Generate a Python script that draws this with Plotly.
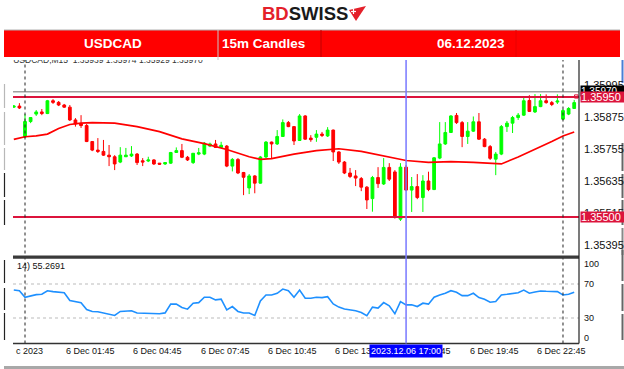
import plotly.graph_objects as go
import pandas as pd

W, H = 624, 369
def px(x): return x / W
def py(y): return 1 - y / H

# ---------------- data ----------------
times = pd.date_range("2023-12-05 23:30", periods=101, freq="15min")

opens = [1.35912, 1.35916, 1.35800, 1.35858, 1.35886, 1.35894, 1.35888, 1.35936, 1.35930, 1.35920,
         1.35912, 1.35864, 1.35849, 1.35843, 1.35783, 1.35751, 1.35746, 1.35732, 1.35726, 1.35706,
         1.35726, 1.35729, 1.35736, 1.35711, 1.35710, 1.35714, 1.35702, 1.35699, 1.35702, 1.35742,
         1.35749, 1.35724, 1.35704, 1.35736, 1.35736, 1.35766, 1.35774, 1.35761, 1.35766, 1.35691,
         1.35716, 1.35667, 1.35609, 1.35654, 1.35627, 1.35725, 1.35781, 1.35774, 1.35802, 1.35854,
         1.35839, 1.35787, 1.35879, 1.35796, 1.35799, 1.35811, 1.35804, 1.35826, 1.35744, 1.35706,
         1.35665, 1.35654, 1.35644, 1.35612, 1.35569, 1.35648, 1.35624, 1.35686, 1.35669, 1.35492,
         1.35687, 1.35601, 1.35614, 1.35573, 1.35635, 1.35603, 1.35721, 1.35774, 1.35817, 1.35881,
         1.35854, 1.35802, 1.35822, 1.35857, 1.35792, 1.35764, 1.35717, 1.35736, 1.35839, 1.35852,
         1.35873, 1.35882, 1.35937, 1.35894, 1.35914, 1.35936, 1.35929, 1.35931, 1.35867, 1.35886,
         1.35907]
highs = [1.35920, 1.35927, 1.35886, 1.35875, 1.35901, 1.35905, 1.35939, 1.35942, 1.35935, 1.35924,
         1.35920, 1.35871, 1.35882, 1.35849, 1.35785, 1.35796, 1.35789, 1.35770, 1.35732, 1.35762,
         1.35759, 1.35766, 1.35740, 1.35721, 1.35726, 1.35717, 1.35702, 1.35706, 1.35744, 1.35761,
         1.35774, 1.35729, 1.35740, 1.35759, 1.35781, 1.35779, 1.35789, 1.35782, 1.35770, 1.35721,
         1.35721, 1.35669, 1.35661, 1.35657, 1.35729, 1.35785, 1.35783, 1.35826, 1.35866, 1.35860,
         1.35841, 1.35886, 1.35882, 1.35807, 1.35826, 1.35819, 1.35837, 1.35828, 1.35747, 1.35710,
         1.35684, 1.35676, 1.35650, 1.35616, 1.35654, 1.35687, 1.35721, 1.35702, 1.35676, 1.35702,
         1.35695, 1.35650, 1.35661, 1.35657, 1.35670, 1.35725, 1.35856, 1.35856, 1.35882, 1.35890,
         1.35860, 1.35856, 1.35877, 1.35890, 1.35796, 1.35770, 1.35744, 1.35845, 1.35860, 1.35879,
         1.35890, 1.35951, 1.35957, 1.35961, 1.35961, 1.35960, 1.35935, 1.35960, 1.35905, 1.35912,
         1.35939]
lows = [1.35909, 1.35905, 1.35798, 1.35852, 1.35879, 1.35882, 1.35886, 1.35924, 1.35916, 1.35909,
        1.35860, 1.35839, 1.35834, 1.35781, 1.35747, 1.35740, 1.35729, 1.35691, 1.35676, 1.35702,
        1.35725, 1.35725, 1.35695, 1.35691, 1.35706, 1.35695, 1.35695, 1.35695, 1.35699, 1.35740,
        1.35721, 1.35710, 1.35699, 1.35732, 1.35732, 1.35762, 1.35759, 1.35759, 1.35687, 1.35671,
        1.35661, 1.35582, 1.35586, 1.35589, 1.35625, 1.35721, 1.35720, 1.35770, 1.35800, 1.35837,
        1.35770, 1.35785, 1.35789, 1.35782, 1.35782, 1.35800, 1.35800, 1.35710, 1.35699, 1.35661,
        1.35646, 1.35616, 1.35597, 1.35530, 1.35520, 1.35609, 1.35620, 1.35635, 1.35494, 1.35485,
        1.35597, 1.35519, 1.35567, 1.35519, 1.35597, 1.35601, 1.35717, 1.35770, 1.35815, 1.35849,
        1.35762, 1.35774, 1.35819, 1.35789, 1.35762, 1.35714, 1.35657, 1.35732, 1.35819, 1.35815,
        1.35864, 1.35879, 1.35894, 1.35890, 1.35912, 1.35925, 1.35916, 1.35924, 1.35864, 1.35882,
        1.35905]
closes = [1.35916, 1.35909, 1.35858, 1.35873, 1.35894, 1.35888, 1.35936, 1.35930, 1.35920, 1.35912,
          1.35864, 1.35849, 1.35843, 1.35783, 1.35751, 1.35746, 1.35732, 1.35726, 1.35699, 1.35732,
          1.35732, 1.35736, 1.35704, 1.35706, 1.35714, 1.35699, 1.35698, 1.35704, 1.35742, 1.35749,
          1.35724, 1.35714, 1.35739, 1.35741, 1.35777, 1.35774, 1.35761, 1.35769, 1.35691, 1.35716,
          1.35665, 1.35649, 1.35654, 1.35627, 1.35725, 1.35781, 1.35774, 1.35802, 1.35854, 1.35839,
          1.35785, 1.35879, 1.35792, 1.35790, 1.35811, 1.35806, 1.35826, 1.35744, 1.35706, 1.35665,
          1.35652, 1.35646, 1.35612, 1.35564, 1.35648, 1.35625, 1.35686, 1.35642, 1.35500, 1.35687,
          1.35601, 1.35614, 1.35573, 1.35635, 1.35603, 1.35722, 1.35774, 1.35817, 1.35879, 1.35854,
          1.35802, 1.35822, 1.35857, 1.35792, 1.35764, 1.35720, 1.35736, 1.35839, 1.35852, 1.35873,
          1.35882, 1.35936, 1.35896, 1.35914, 1.35936, 1.35929, 1.35922, 1.35935, 1.35899, 1.35907,
          1.35929]

ma_index = [0, 2, 4, 6, 8, 10, 12, 14, 18, 22, 26, 30, 34, 38, 42, 44, 46, 50, 54, 58, 62, 66,
            70, 74, 78, 82, 86, 87, 90, 92, 94, 96, 98, 100]
ma_values = [1.35791, 1.35801, 1.35804, 1.35811, 1.35832, 1.35847, 1.35852, 1.35854, 1.35852,
             1.35839, 1.35820, 1.35793, 1.35775, 1.35753, 1.35726, 1.35716, 1.35719, 1.35736,
             1.35749, 1.35756, 1.35746, 1.35730, 1.35712, 1.35705, 1.35708, 1.35705, 1.35700,
             1.35699, 1.35725, 1.35744, 1.35766, 1.35783, 1.35804, 1.35819]

rsi = [62.9, 62.1, 54.4, 56.0, 57.5, 57.9, 62.1, 61.0, 60.0, 59.8,
       50.5, 49.5, 48.0, 40.0, 37.7, 37.3, 36.0, 34.5, 33.0, 37.7,
       38.3, 38.5, 35.8, 35.8, 35.8, 35.3, 35.0, 36.0, 46.3, 46.3,
       42.3, 40.4, 47.4, 48.1, 54.4, 54.4, 51.3, 52.1, 39.6, 43.5,
       37.7, 35.8, 35.8, 33.0, 50.1, 57.1, 57.1, 59.1, 64.1, 62.1,
       54.4, 62.9, 53.3, 53.3, 54.4, 54.0, 55.1, 46.6, 42.8, 40.5,
       39.6, 38.5, 36.5, 32.6, 42.8, 41.6, 48.1, 44.3, 35.0, 49.3,
       45.5, 45.5, 43.5, 47.4, 46.3, 54.4, 57.1, 59.1, 62.1, 60.2,
       56.3, 56.3, 59.1, 54.0, 52.1, 48.6, 49.3, 57.1, 57.9, 59.1,
       59.8, 62.9, 59.1, 60.6, 61.8, 61.4, 61.0, 61.0, 57.1, 57.9,
       60.2]

price_ticks = [1.35995, 1.35875, 1.35755, 1.35635, 1.35515, 1.35395]
level_high = 1.35950
level_low = 1.35500
bid_price = 1.35970
rsi_ticks = [70, 30]

time_label_times = ["2023-12-06 01:45", "2023-12-06 04:45", "2023-12-06 07:45", "2023-12-06 10:45",
                    "2023-12-06 13:45", "2023-12-06 16:45", "2023-12-06 19:45", "2023-12-06 22:45"]
time_label_texts = ["6 Dec 01:45", "6 Dec 04:45", "6 Dec 07:45", "6 Dec 10:45",
                    "6 Dec 13:45", "6 Dec 16:45", "6 Dec 19:45", "6 Dec 22:45"]
day_separators = ["2023-12-06 00:00", "2023-12-07 00:00"]
cursor_time = "2023-12-06 17:00"

FONT = "Liberation Sans, Arial, sans-serif"

# ---------------- traces ----------------
fig = go.Figure()
fig.add_trace(go.Candlestick(
    x=times, open=opens, high=highs, low=lows, close=closes,
    increasing=dict(line=dict(color="#00FF00", width=1), fillcolor="#00FF00"),
    decreasing=dict(line=dict(color="#FF0000", width=1), fillcolor="#FF0000"),
    whiskerwidth=0, showlegend=False, hoverinfo="skip", xaxis="x", yaxis="y"))

fig.add_trace(go.Scatter(
    x=[times[i] for i in ma_index], y=ma_values, mode="lines",
    line=dict(color="#FF0000", width=1.7), showlegend=False, hoverinfo="skip",
    xaxis="x", yaxis="y"))

fig.add_trace(go.Scatter(
    x=["2023-12-05 23:28:30"], y=[1.36085], mode="text",
    text=["USDCAD,M15  1.35939 1.35974 1.35929 1.35970"], textposition="middle right",
    textfont=dict(family=FONT, size=8.5, color="#333333"), cliponaxis=True,
    showlegend=False, hoverinfo="skip", xaxis="x", yaxis="y"))

fig.add_trace(go.Scatter(
    x=times, y=rsi, mode="lines", line=dict(color="#1E90FF", width=1.6),
    showlegend=False, hoverinfo="skip", xaxis="x2", yaxis="y2"))

# ---------------- layout ----------------
x_range = ["2023-12-05 23:27:52", "2023-12-07 00:42:51"]
fig.update_layout(
    width=W, height=H, margin=dict(l=0, r=0, t=0, b=0),
    paper_bgcolor="white", plot_bgcolor="white", showlegend=False,
    xaxis=dict(domain=[px(13), px(579)], range=x_range, anchor="y", visible=False,
               rangeslider=dict(visible=False), type="date"),
    xaxis2=dict(domain=[px(13), px(579)], range=x_range, anchor="y2", matches="x",
                visible=False, type="date"),
    yaxis=dict(domain=[py(256), py(60)], range=[1.353538, 1.360888], visible=False),
    yaxis2=dict(domain=[py(343.5), py(258.5)], range=[0, 100], visible=False),
)

shapes = []
# header banner
shapes.append(dict(type="rect", xref="paper", yref="paper", x0=px(4), x1=px(620),
                   y0=py(57), y1=py(30), fillcolor="#FF0000", line=dict(width=0), layer="below"))
shapes.append(dict(type="line", xref="paper", yref="paper", x0=px(4), x1=px(620),
                   y0=py(30), y1=py(30), line=dict(color="#B0B0B0", width=1)))
for xd, col in [(218, "#C8C8C8"), (321, "#C00000"), (516, "#E80000")]:
    shapes.append(dict(type="line", xref="paper", yref="paper", x0=px(xd), x1=px(xd),
                       y0=py(60 if xd == 218 else 57), y1=py(30), line=dict(color=col, width=1)))
# logo icon
shapes.append(dict(type="path", xref="paper", yref="paper",
                   path="M {} {} L {} {} L {} {} Z".format(px(349), py(10), px(366), py(6), px(356), py(21)),
                   fillcolor="#E4202A", line=dict(width=0)))
shapes.append(dict(type="line", xref="paper", yref="paper", x0=px(351), x1=px(356),
                   y0=py(11.5), y1=py(11.5), line=dict(color="white", width=1.2)))
shapes.append(dict(type="line", xref="paper", yref="paper", x0=px(353.5), x1=px(353.5),
                   y0=py(9), y1=py(14), line=dict(color="white", width=1.2)))
# bid line and level lines
shapes.append(dict(type="line", xref="paper", yref="y", x0=px(13), x1=px(579),
                   y0=bid_price, y1=bid_price, line=dict(color="#A0A0A0", width=1.6)))
for lv in [level_high, level_low]:
    shapes.append(dict(type="line", xref="paper", yref="y", x0=px(13), x1=px(579),
                       y0=lv, y1=lv, line=dict(color="#DC143C", width=2.2)))
shapes.append(dict(type="rect", xref="paper", yref="y", x0=px(574.5), x1=px(578),
                   y0=level_high - 0.00004, y1=level_high + 0.00008,
                   line=dict(color="#DC143C", width=1), fillcolor="rgba(0,0,0,0)"))
# RSI levels
for lv in rsi_ticks:
    shapes.append(dict(type="line", xref="paper", yref="y2", x0=px(13), x1=px(579),
                       y0=lv, y1=lv, line=dict(color="#BBBBBB", width=1, dash="dot")))
# day separators
for t in day_separators:
    shapes.append(dict(type="line", xref="x", yref="paper", x0=t, x1=t,
                       y0=py(343.5), y1=py(60), line=dict(color="#222222", width=1, dash="dot")))
# window separator / frame
shapes.append(dict(type="rect", xref="paper", yref="paper", x0=px(13), x1=px(579),
                   y0=py(258.8), y1=py(255.6), fillcolor="#3A3A3A", line=dict(width=0)))
shapes.append(dict(type="line", xref="paper", yref="paper", x0=px(579), x1=px(579),
                   y0=py(343.5), y1=py(60), line=dict(color="#222222", width=1.2)))
shapes.append(dict(type="line", xref="paper", yref="paper", x0=px(13), x1=px(579),
                   y0=py(343.5), y1=py(343.5), line=dict(color="#333333", width=1.6)))
shapes.append(dict(type="rect", xref="paper", yref="paper", x0=px(4), x1=px(624),
                   y0=py(369), y1=py(366), fillcolor="#A8A8A8", line=dict(width=0)))
# cursor line
shapes.append(dict(type="line", xref="x", yref="paper", x0=cursor_time, x1=cursor_time,
                   y0=py(343.5), y1=py(60), line=dict(color="#7878FF", width=1.5)))
# window fragments at the edges
for y0, y1, col in [(84, 108, "#B8B8B8"), (112, 145, "#B8B8B8"), (148, 170, "#B8B8B8"),
                    (173, 197, "#222222"), (200, 225, "#222222"), (260, 283, "#222222"),
                    (288, 310, "#222222"), (313, 340, "#222222")]:
    shapes.append(dict(type="line", xref="paper", yref="paper", x0=px(4.5), x1=px(4.5),
                       y0=py(y1), y1=py(y0), line=dict(color=col, width=1.2)))
for y0, y1, col in [(143, 171, "#666666"), (174, 198, "#666666"), (200, 225, "#666666"),
                    (228, 255, "#888888"), (250, 281, "#666666"), (284, 311, "#666666"),
                    (314, 340, "#666666"), (60, 83, "#4A7FD4")]:
    shapes.append(dict(type="line", xref="paper", yref="paper", x0=px(622.5), x1=px(622.5),
                       y0=py(y1), y1=py(y0), line=dict(color=col, width=2)))
fig.update_layout(shapes=shapes)

ann = []
# logo
ann.append(dict(xref="paper", yref="paper", x=px(305), y=py(13.5), xanchor="center", yanchor="middle",
                text="<b><span style='color:#E4202A'>BD</span>SWISS</b>", showarrow=False,
                font=dict(family=FONT, size=18.5, color="#1A1A1A")))
for txt, xc in [("USDCAD", 113), ("15m Candles", 263), ("06.12.2023", 471)]:
    ann.append(dict(xref="paper", yref="paper", x=px(xc), y=py(44), xanchor="center", yanchor="middle",
                    text="<b>" + txt + "</b>", showarrow=False,
                    font=dict(family=FONT, size=13.5, color="white")))
# price scale labels
for v in price_ticks:
    ann.append(dict(xref="paper", yref="y", x=px(582), y=v, xanchor="left", yanchor="middle",
                    text="{:.5f}".format(v), showarrow=False,
                    font=dict(family=FONT, size=11, color="#111111")))
ann.append(dict(xref="paper", yref="y", x=px(580), y=bid_price + 0.00003, xanchor="left", yanchor="middle",
                text="{:.5f}".format(bid_price), showarrow=False, bgcolor="#000000",
                width=44, height=10, align="left", borderpad=0,
                font=dict(family=FONT, size=10, color="white")))
for lv in [level_high, level_low]:
    ann.append(dict(xref="paper", yref="y", x=px(580), y=lv, xanchor="left", yanchor="middle",
                    text="{:.5f}".format(lv), showarrow=False, bgcolor="#DC143C",
                    width=44, height=10, align="left", borderpad=0,
                    font=dict(family=FONT, size=11, color="white")))
# RSI labels
ann.append(dict(xref="paper", yref="paper", x=px(15), y=py(265.5), xanchor="left", yanchor="middle",
                text="14) 55.2691", showarrow=False, font=dict(family=FONT, size=9, color="#111111")))
for txt, yy in [("100", 264), ("70", 284), ("30", 318), ("0", 338)]:
    ann.append(dict(xref="paper", yref="paper", x=px(582), y=py(yy), xanchor="left", yanchor="middle",
                    text=txt, showarrow=False, font=dict(family=FONT, size=9, color="#111111")))
# time labels
ann.append(dict(xref="paper", yref="paper", x=px(14), y=py(350.5), xanchor="left", yanchor="middle",
                text="c 2023", showarrow=False, font=dict(family=FONT, size=9, color="#111111")))
for t, txt in zip(time_label_times, time_label_texts):
    ann.append(dict(xref="x", yref="paper", x=t, y=py(350.5), xanchor="left", yanchor="middle",
                    text=txt, showarrow=False, font=dict(family=FONT, size=9, color="#111111")))
ann.append(dict(xref="x", yref="paper", x=cursor_time, y=py(350.5), xanchor="center", yanchor="middle",
                text="2023.12.06 17:00", showarrow=False, bgcolor="#0000FF", borderpad=1,
                font=dict(family=FONT, size=9, color="white")))
fig.update_layout(annotations=ann)

fig.write_html("out.html", config={"displayModeBar": False, "staticPlot": True},
               post_script="document.body.style.margin='0';document.body.style.padding='0';"
                           "document.documentElement.style.overflow='hidden';")
